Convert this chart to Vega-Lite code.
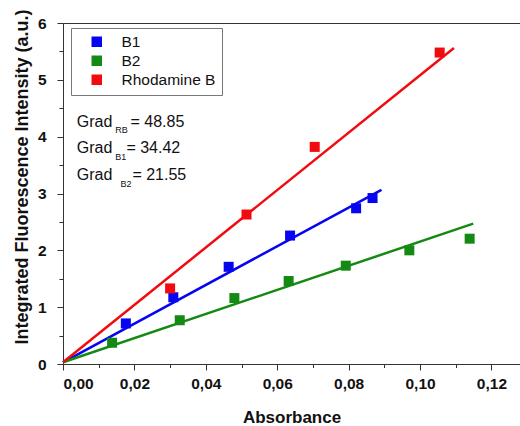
{
  "$schema": "https://vega.github.io/schema/vega-lite/v6.json",
  "width": 458,
  "height": 341,
  "autosize": {"type": "none"},
  "padding": {"left": 63, "top": 23, "right": 0, "bottom": 62},
  "background": "white",
  "config": {
    "view": {"stroke": "#333", "strokeWidth": 1},
    "font": "Liberation Sans",
    "axis": {"grid": false, "domainColor": "#333", "tickColor": "#333", "labelColor": "#111", "titleColor": "#111", "labelFont": "Liberation Sans", "titleFont": "Liberation Sans"},
    "legend": {"symbolType": "square"}
  },
  "datasets": {
    "points": [
      {"series": "B1", "absorbance": 0.0176, "intensity": 0.714},
      {"series": "B1", "absorbance": 0.0309, "intensity": 1.174},
      {"series": "B1", "absorbance": 0.0464, "intensity": 1.71},
      {"series": "B1", "absorbance": 0.0636, "intensity": 2.26},
      {"series": "B1", "absorbance": 0.0821, "intensity": 2.74},
      {"series": "B1", "absorbance": 0.0867, "intensity": 2.92},
      {"series": "B2", "absorbance": 0.01375, "intensity": 0.374},
      {"series": "B2", "absorbance": 0.0327, "intensity": 0.77},
      {"series": "B2", "absorbance": 0.048, "intensity": 1.16},
      {"series": "B2", "absorbance": 0.0632, "intensity": 1.46},
      {"series": "B2", "absorbance": 0.0792, "intensity": 1.73},
      {"series": "B2", "absorbance": 0.097, "intensity": 2.0},
      {"series": "B2", "absorbance": 0.1139, "intensity": 2.205},
      {"series": "Rhodamine B", "absorbance": 0.03, "intensity": 1.33},
      {"series": "Rhodamine B", "absorbance": 0.0514, "intensity": 2.63},
      {"series": "Rhodamine B", "absorbance": 0.0705, "intensity": 3.82},
      {"series": "Rhodamine B", "absorbance": 0.1055, "intensity": 5.48}
    ],
    "fits": [
      {"series": "B1", "absorbance": 0, "intensity": 0.03},
      {"series": "B1", "absorbance": 0.0892, "intensity": 3.065},
      {"series": "B2", "absorbance": 0, "intensity": 0.03},
      {"series": "B2", "absorbance": 0.1149, "intensity": 2.47},
      {"series": "Rhodamine B", "absorbance": 0, "intensity": 0.03},
      {"series": "Rhodamine B", "absorbance": 0.1095, "intensity": 5.56}
    ],
    "notes": [
      {"label": "Grad", "kind": "main", "absorbance": 0.00384, "intensity": 4.264},
      {"label": "RB", "kind": "sub", "absorbance": 0.0146, "intensity": 4.12},
      {"label": "= 48.85", "kind": "main", "absorbance": 0.0189, "intensity": 4.264},
      {"label": "Grad", "kind": "main", "absorbance": 0.00384, "intensity": 3.795},
      {"label": "B1", "kind": "sub", "absorbance": 0.0146, "intensity": 3.65},
      {"label": "= 34.42", "kind": "main", "absorbance": 0.01776, "intensity": 3.795},
      {"label": "Grad", "kind": "main", "absorbance": 0.00384, "intensity": 3.326},
      {"label": "B2", "kind": "sub", "absorbance": 0.01608, "intensity": 3.17},
      {"label": "= 21.55", "kind": "main", "absorbance": 0.01944, "intensity": 3.326}
    ]
  },
  "resolve": {"axis": {"x": "independent", "y": "independent"}},
  "layer": [
    {
      "data": {"name": "fits"},
      "mark": {"type": "line", "strokeWidth": 2.5},
      "encoding": {
        "x": {"field": "absorbance", "type": "quantitative",
          "scale": {"domain": [0, 0.12828], "nice": false, "zero": false},
          "axis": {"orient": "bottom", "values": [0, 0.02, 0.04, 0.06, 0.08, 0.1, 0.12],
            "labelExpr": "replace(format(datum.value, '.2f'), '.', ',')",
            "tickSize": 6, "labelPadding": 6, "labelFontSize": 15.5, "labelFontWeight": "bold",
            "title": "Absorbance", "titleFontSize": 17, "titleFontWeight": "bold", "titlePadding": 18, "titleX": 228.5}},
        "y": {"field": "intensity", "type": "quantitative",
          "scale": {"domain": [0, 6], "nice": false},
          "axis": {"orient": "left", "values": [0, 1, 2, 3, 4, 5, 6], "format": "d",
            "tickSize": 6, "labelPadding": 11, "labelFontSize": 15.5, "labelFontWeight": "bold",
            "title": "Integrated Fluorescence Intensity (a.u.)", "titleFontSize": 18, "titleFontWeight": "bold",
            "titleX": -41, "titleY": 153.5, "titleAlign": "center", "titleBaseline": "middle", "titleAngle": -90}},
        "color": {"field": "series", "type": "nominal",
          "scale": {"domain": ["B1", "B2", "Rhodamine B"], "range": ["#0505f0", "#148a14", "#f20a0f"]},
          "legend": {"title": null, "orient": "none", "legendX": 8, "legendY": 5,
            "strokeColor": "#777", "fillColor": "white", "padding": 6,
            "symbolType": "square", "symbolSize": 110, "symbolOffset": 12, "labelOffset": 17,
            "symbolStrokeWidth": 0,
            "labelFontSize": 15.5, "labelFont": "Liberation Sans", "labelColor": "#111", "rowPadding": 2}}
      }
    },
    {
      "data": {"name": "points"},
      "mark": {"type": "square", "size": 100, "opacity": 1},
      "encoding": {
        "x": {"field": "absorbance", "type": "quantitative", "axis": null},
        "y": {"field": "intensity", "type": "quantitative",
          "axis": {"orient": "left", "values": [0.5, 1.5, 2.5, 3.5, 4.5, 5.5], "labels": false, "domain": false, "tickSize": 4, "title": null}},
        "color": {"field": "series", "type": "nominal"}
      }
    },
    {
      "data": {"name": "notes"},
      "transform": [{"filter": "datum.kind === 'main'"}],
      "mark": {"type": "text", "align": "left", "baseline": "middle", "fontSize": 16, "font": "Liberation Sans", "color": "#111"},
      "encoding": {
        "x": {"field": "absorbance", "type": "quantitative",
          "axis": {"orient": "bottom", "values": [0.01, 0.03, 0.05, 0.07, 0.09, 0.11], "labels": false, "domain": false, "tickSize": 3.5, "title": null}},
        "y": {"field": "intensity", "type": "quantitative", "axis": null},
        "text": {"field": "label"}
      }
    },
    {
      "data": {"name": "notes"},
      "transform": [{"filter": "datum.kind === 'sub'"}],
      "mark": {"type": "text", "align": "left", "baseline": "middle", "fontSize": 9, "font": "Liberation Sans", "color": "#111"},
      "encoding": {
        "x": {"field": "absorbance", "type": "quantitative", "axis": null},
        "y": {"field": "intensity", "type": "quantitative", "axis": null},
        "text": {"field": "label"}
      }
    }
  ]
}
